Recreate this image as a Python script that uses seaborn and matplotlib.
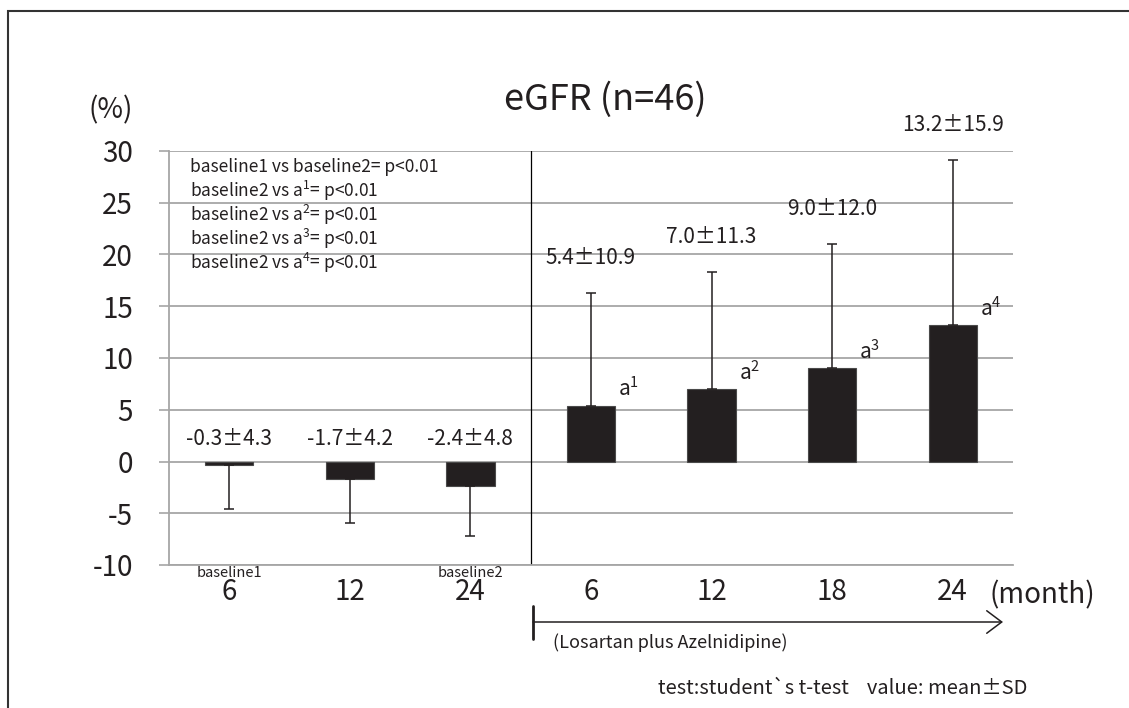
import matplotlib
matplotlib.use("Agg")
import matplotlib.pyplot as plt
from matplotlib.patches import Rectangle
from matplotlib.lines import Line2D
import pandas as pd
import seaborn as sns

# values (change in eGFR, %)
periods = ["pre6", "pre12", "pre24", "post6", "post12", "post18", "post24"]
tick_labels = ["6", "12", "24", "6", "12", "18", "24"]
means = [-0.3, -1.7, -2.4, 5.4, 7.0, 9.0, 13.2]
sds = [4.3, 4.2, 4.8, 10.9, 11.3, 12.0, 15.9]
phase_notes = ["baseline1", "", "baseline2", "", "", "", ""]
sig_marks = ["", "", "", "a$^{1}$", "a$^{2}$", "a$^{3}$", "a$^{4}$"]
stats_lines = [
    "baseline1 vs baseline2= p<0.01",
    "baseline2 vs a$^{1}$= p<0.01",
    "baseline2 vs a$^{2}$= p<0.01",
    "baseline2 vs a$^{3}$= p<0.01",
    "baseline2 vs a$^{4}$= p<0.01",
]
y_ticks = [-10, -5, 0, 5, 10, 15, 20, 25, 30]

df = pd.DataFrame({"period": periods, "mean": means, "sd": sds})

sns.set_style("white")
plt.rcParams["font.family"] = ["Noto Sans CJK JP", "DejaVu Sans"]
plt.rcParams["mathtext.fontset"] = "custom"
plt.rcParams["mathtext.rm"] = "Noto Sans CJK JP"
plt.rcParams["mathtext.it"] = "Noto Sans CJK JP"
plt.rcParams["mathtext.default"] = "regular"

W, H = 1129, 708
fig = plt.figure(figsize=(W / 100, H / 100), dpi=100)
ax = fig.add_axes([169 / W, 1 - 565 / H, 844 / W, 414 / H])

dark = "#231F20"
grey = "#A6A6A6"

sns.barplot(data=df, x="period", y="mean", order=periods, color=dark,
            saturation=1, width=0.4, errorbar=None, edgecolor="#4a4a4a",
            linewidth=0.8, ax=ax, zorder=3)

# one-sided SD bars (down for negative means, up for positive)
lower = [s if m < 0 else 0 for m, s in zip(means, sds)]
upper = [s if m >= 0 else 0 for m, s in zip(means, sds)]
ax.errorbar(range(len(means)), means, yerr=[lower, upper], fmt="none",
            ecolor=dark, elinewidth=1.1, capsize=3.3, capthick=1.1, zorder=4)

ax.set_xlim(-0.5, len(periods) - 0.5)
ax.set_ylim(-10, 30)
ax.set_yticks(y_ticks)
ax.set_yticklabels([str(t) for t in y_ticks], fontsize=20, color=dark)
ax.set_xticks(range(len(periods)))
ax.set_xticklabels(tick_labels, fontsize=20, color=dark)
ax.set_xlabel("")
ax.set_ylabel("")
ax.tick_params(axis="y", direction="out", length=7, width=1.2, color=grey, pad=19, left=True)
ax.tick_params(axis="x", length=0, pad=9)
ax.yaxis.grid(True, color=grey, lw=1.3)
ax.set_axisbelow(True)
for side in ["top", "right"]:
    ax.spines[side].set_visible(False)
ax.spines["left"].set_color(grey)
ax.spines["left"].set_linewidth(1.3)
ax.spines["bottom"].set_color(grey)
ax.spines["bottom"].set_linewidth(1.3)

# split between baseline period and combination therapy
ax.axvline(2.5, color="black", lw=0.9, zorder=2)

for i, (m, s) in enumerate(zip(means, sds)):
    label = f"{m:.1f}±{s:.1f}"
    y = 2.2 if m < 0 else m + s + 3.4
    ax.text(i, y, label, ha="center", va="center", fontsize=15, color=dark)
    if sig_marks[i]:
        ax.text(i + 0.225, m + 0.4, sig_marks[i], ha="left", va="bottom",
                fontsize=15, color=dark)
    if phase_notes[i]:
        ax.text(i, -10.8, phase_notes[i], ha="center", va="center",
                fontsize=10.5, color=dark)

for k, line in enumerate(stats_lines):
    fig.text(190 / W, 1 - (167 + 24 * k) / H, line, ha="left", va="center",
             fontsize=12.5, color=dark)

fig.text(605 / W, 1 - 100 / H, "eGFR (n=46)", ha="center", va="center",
         fontsize=26, color=dark)
fig.text(111 / W, 1 - 110 / H, "(%)", ha="center", va="center",
         fontsize=20, color=dark)
fig.text(990 / W, 1 - 595 / H, "(month)", ha="left", va="center",
         fontsize=20, color=dark)

# treatment arrow under the x axis
ax.annotate("", xy=(1003 / W, 1 - 622 / H), xytext=(533 / W, 1 - 622 / H),
            xycoords="figure fraction", textcoords="figure fraction",
            arrowprops=dict(arrowstyle="->,head_length=0.4,head_width=0.3",
                            lw=1.1, color=dark, mutation_scale=27,
                            shrinkA=0, shrinkB=0))
fig.add_artist(Line2D([533 / W, 533 / W], [1 - 606 / H, 1 - 639 / H],
                      color=dark, lw=2))
fig.text(553 / W, 1 - 643 / H, "(Losartan plus Azelnidipine)", ha="left",
         va="center", fontsize=13, color=dark)
fig.text(1027 / W, 1 - 688 / H, "test:student`s t-test    value: mean±SD",
         ha="right", va="center", fontsize=14.5, color=dark)

# outer frame, cut off at right and bottom like the scan
fig.add_artist(Rectangle((8 / W, -0.2), 1.3, 1 - 11 / H + 0.2,
                         transform=fig.transFigure, fill=False,
                         edgecolor="#333333", lw=1.5))

fig.savefig("out.png", dpi=100)
